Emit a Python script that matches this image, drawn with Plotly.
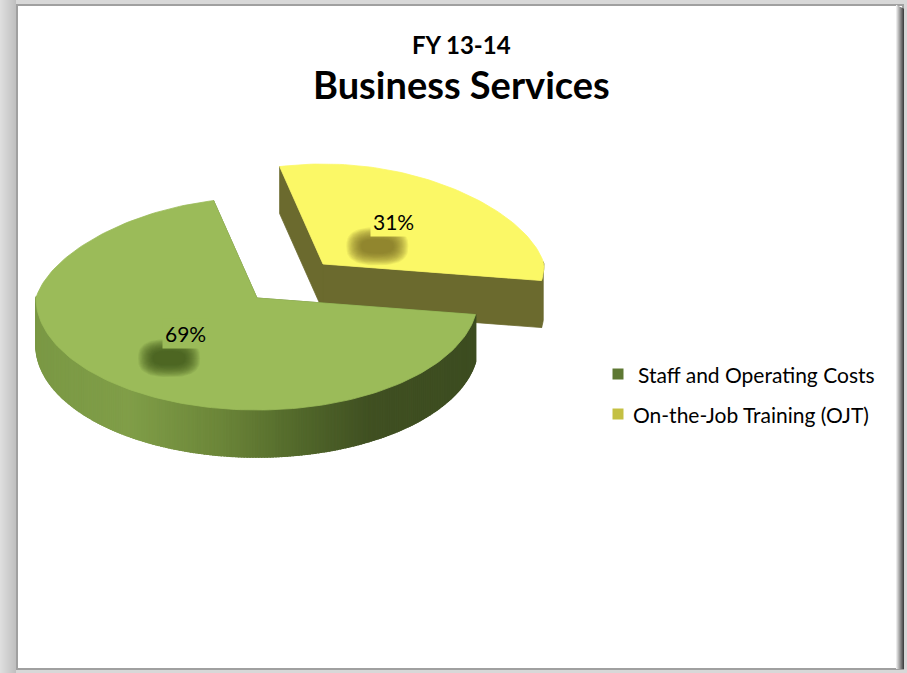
import math
import plotly.graph_objects as go

# ---- data ----
categories = ["Staff and Operating Costs", "On-the-Job Training (OJT)"]
shares = [69, 31]
title_top = "FY 13-14"
title_main = "Business Services"

# ---- styling ----
W, H = 907, 673
FONT = "Lato"
TOP_COLORS = ["#9BBB59", "#FBF866"]
SIDE_COLOR_OJT = "#6B6A2E"
LEGEND_COLORS = ["#5E7833", "#C4C043"]

# pseudo-3D projection parameters (pixel space)
CX, CY = 257, 298
RX = 221
RX_SHRINK = 0.138                       # back half appears narrower (perspective)
RY_BACK, RY_FRONT = 100, 112
DEPTH = 47
START_ANGLE = -8.5                      # where the OJT slice begins (deg, ccw)
EXPLODE = {1: (66, -34)}                # pulled-out slice offset

fig = go.Figure()


def proj(theta, r=1.0, dz=0.0, off=(0, 0)):
    t = math.radians(theta)
    s = math.sin(t)
    ry = RY_BACK if s > 0 else RY_FRONT
    rx = RX * (1 - RX_SHRINK * s) if s > 0 else RX
    return (CX + rx * r * math.cos(t) + off[0],
            CY - ry * r * s + off[1] + dz)


def poly(pts, color, lw=0.8):
    xs = [p[0] for p in pts] + [pts[0][0]]
    ys = [p[1] for p in pts] + [pts[0][1]]
    fig.add_trace(go.Scatter(x=xs, y=ys, mode="lines", fill="toself",
                             fillcolor=color,
                             line=dict(color=color if lw else "rgba(0,0,0,0)", width=lw),
                             hoverinfo="skip", showlegend=False))


def lerp_color(stops, v):
    for (a, ca), (b, cb) in zip(stops, stops[1:]):
        if a <= v <= b:
            f = (v - a) / (b - a) if b > a else 0
            c = [round(ca[i] + (cb[i] - ca[i]) * f) for i in range(3)]
            return "rgb(%d,%d,%d)" % tuple(c)
    c = stops[0][1] if v < stops[0][0] else stops[-1][1]
    return "rgb(%d,%d,%d)" % tuple(c)


# side-wall shading for the green slice, by screen x
GREEN_WALL = [(30, (122, 152, 68)), (130, (128, 158, 72)), (220, (108, 134, 57)),
              (300, (82, 104, 43)), (370, (64, 80, 34)), (490, (60, 76, 32))]

# slice angle ranges: OJT first (ccw from START_ANGLE), then staff
total = sum(shares)
spans = [v / total * 360 for v in shares]
ranges = {1: (START_ANGLE, START_ANGLE + spans[1]),
          0: (START_ANGLE + spans[1], START_ANGLE + spans[1] + spans[0])}


def arc(a0, a1, n=None, **kw):
    n = n or max(8, int(abs(a1 - a0) / 1.5))
    return [proj(a0 + (a1 - a0) * k / n, **kw) for k in range(n + 1)]


def draw_slice(i):
    a0, a1 = ranges[i]
    off = EXPLODE.get(i, (0, 0))
    apex_t = proj(0, r=0, off=off)
    apex_b = proj(0, r=0, off=off, dz=DEPTH)
    # radial cut faces
    for a in (a1, a0):
        rt = proj(a, off=off)
        rb = proj(a, off=off, dz=DEPTH)
        col = SIDE_COLOR_OJT if i == 1 else "rgb(95,120,50)"
        poly([apex_t, rt, rb, apex_b], col)
    # outer wall, front half only
    front = []
    n = int((a1 - a0) / 0.75)
    for k in range(n):
        t0 = a0 + (a1 - a0) * k / n
        t1 = a0 + (a1 - a0) * (k + 1) / n
        if math.sin(math.radians((t0 + t1) / 2)) >= 0.02:
            continue
        front.append((t0, t1))
    if front:
        # base wall in one piece, then shaded strips over it
        tops = arc(front[0][0], front[-1][1], off=off)
        bots = arc(front[0][0], front[-1][1], off=off, dz=DEPTH)
        base = SIDE_COLOR_OJT if i == 1 else "rgb(90,112,46)"
        poly(tops + bots[::-1], base)
        if i == 0:
            for t0, t1 in front:
                p0, p1 = proj(t0, off=off), proj(t1, off=off)
                q0, q1 = proj(t0, off=off, dz=DEPTH), proj(t1, off=off, dz=DEPTH)
                col = lerp_color(GREEN_WALL, (p0[0] + p1[0]) / 2)
                poly([p0, p1, q1, q0], col, lw=1.6)
    # top face
    poly([apex_t] + arc(a0, a1, off=off), TOP_COLORS[i])


draw_slice(1)
draw_slice(0)

# data labels with soft drop shadows
for i in (0, 1):
    a0, a1 = ranges[i]
    off = EXPLODE.get(i, (0, 0))
    lx, ly = proj((a0 + a1) / 2, r=0.5, off=off)
    ly -= 6
    lx += 3
    sx, sy = lx - 16, ly + 25
    shadow = (58, 76, 28) if i == 0 else (115, 110, 40)
    layers = 16
    for j in range(layers):
        grow = layers - 1 - j
        rx, ry = 16 + grow * 1.0, 7 + grow * 0.8
        pts = []
        for t in range(0, 360, 6):
            c, s = math.cos(math.radians(t)), math.sin(math.radians(t))
            # superellipse for a rounded-box shadow
            pts.append((sx + rx * math.copysign(abs(c) ** 0.75, c),
                        sy + ry * math.copysign(abs(s) ** 0.75, s)))
        poly(pts, "rgba(%d,%d,%d,0.085)" % shadow, lw=0)
    fig.add_annotation(x=lx, y=ly, text=f"{shares[i]}%", showarrow=False,
                       font=dict(family=FONT, size=21, color="black"),
                       bgcolor=TOP_COLORS[i], borderpad=2)

# legend
leg_x, leg_y0, leg_dy = 618, 374, 40
fig.add_trace(go.Scatter(x=[leg_x, leg_x], y=[leg_y0, leg_y0 + leg_dy], mode="markers",
                         marker=dict(symbol="square", size=11, color=LEGEND_COLORS,
                                     line=dict(width=0)),
                         hoverinfo="skip", showlegend=False))
for k, name in enumerate(categories):
    fig.add_annotation(x=leg_x + (18 if k == 0 else 13), y=leg_y0 + k * leg_dy,
                       text=name, showarrow=False, xanchor="left",
                       font=dict(family=FONT, size=21, color="black"))

# titles
fig.add_annotation(x=461, y=44, text=f"<b>{title_top}</b>", showarrow=False,
                   font=dict(family=FONT, size=24, color="black"))
fig.add_annotation(x=461, y=84, text=f"<b>{title_main}</b>", showarrow=False,
                   font=dict(family=FONT, size=38, color="black"))

# frame: grey surround, white panel, right-hand shadow
shapes = []
for j in range(16):
    g = 222 - j * 2
    shapes.append(dict(type="rect", x0=j, y0=0, x1=j + 1, y1=H, line=dict(width=0),
                       fillcolor="rgb(%d,%d,%d)" % (g, g, g), layer="below"))
shapes.append(dict(type="rect", x0=17, y0=5, x1=903, y1=669,
                   line=dict(color="#A0A0A0", width=2), fillcolor="white", layer="below"))
for j in range(8):
    g = 235 - j * 24
    shapes.append(dict(type="rect", x0=896 + j, y0=5 + j * 0.5, x1=897 + j, y1=669,
                       line=dict(width=0), fillcolor="rgb(%d,%d,%d)" % (g, g, g), layer="below"))

fig.update_layout(
    width=W, height=H, margin=dict(l=0, r=0, t=0, b=0),
    paper_bgcolor="#D8D8D8", plot_bgcolor="rgba(0,0,0,0)",
    xaxis=dict(range=[0, W], visible=False, fixedrange=True),
    yaxis=dict(range=[H, 0], visible=False, fixedrange=True),
    shapes=shapes, showlegend=False,
)

fig.write_html("out.html")
